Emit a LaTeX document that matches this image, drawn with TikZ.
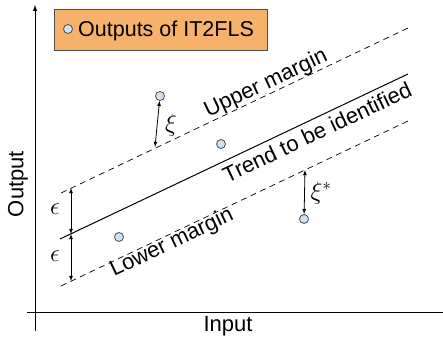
\documentclass[tikz,border=0pt]{standalone}
\usepackage{amsmath}
\usepackage{amssymb}
\usepackage{fontspec}
\setmainfont{Liberation Sans}
\usetikzlibrary{arrows,calc}

\definecolor{legendorange}{HTML}{F6B26B}
\definecolor{dotblue}{HTML}{CFE2F3}
\definecolor{darkgrey}{HTML}{4D4D4D}

\begin{document}
\begin{tikzpicture}[x=1pt, y=-1pt, >=latex,
    every node/.style={font=\fontsize{22}{26}\selectfont},
    outdot/.style={circle, draw=darkgrey, fill=dotblue, line width=0.8pt, inner sep=0pt, minimum size=9pt},
    margin/.style={dash pattern=on 6pt off 4.5pt, line width=0.7pt},
    gap/.style={<->, line width=0.8pt}]
    \useasboundingbox (0,0) rectangle (443,343);

    % draw the axes
    \coordinate (o1) at (35,331);
    \coordinate (o2) at (35,5);
    \coordinate (i1) at (27,312);
    \coordinate (i2) at (443,312);
    \draw[->, line width=1pt] (o1) -- (o2);
    \draw[line width=1pt] (i1) -- (i2);
    \node (input) at (228,326) {Input};
    \node[rotate=90] (output) at (18,184) {Output};

    % the legend
    \node[draw=darkgrey, fill=legendorange, line width=0.8pt, minimum width=213pt, minimum height=41pt] (legend) at (160.5,29.5) {};
    \node[outdot] (ldot) at (68,29) {};
    \node[anchor=base west, inner sep=0pt, font=\fontsize{21.5}{25}\selectfont] (ltext) at (78,36) {Outputs of IT2FLS};

    % the trend and the two margins
    \coordinate (u1) at (61,193);
    \coordinate (u2) at (408,28);
    \coordinate (t1) at (60,239);
    \coordinate (t2) at (408,74);
    \coordinate (l1) at (61,286);
    \coordinate (l2) at (408,121);
    \draw[margin] (u1) -- (u2);
    \draw[line width=1pt] (t1) -- (t2);
    \draw[margin] (l1) -- (l2);

    % the texts along the lines
    \node[rotate=25.4] (utext) at (266,84) {Upper margin};
    \node[rotate=25.4] (ttext) at (317,132) {Trend to be identified};
    \node[rotate=25.4] (ltext2) at (172,243) {Lower margin};

    % the outputs
    \node[outdot] (p1) at (160,96) {};
    \node[outdot] (p2) at (221,144) {};
    \node[outdot] (p3) at (119,237) {};
    \node[outdot] (p4) at (304,219) {};

    % epsilon tube
    \coordinate (eu) at (71,188);
    \coordinate (et) at (71,234);
    \coordinate (el) at (71,281);
    \draw[gap] (eu) -- (et);
    \draw[gap] (et) -- (el);
    \node[font=\fontsize{26}{30}\selectfont] (eps1) at (55,209) {$\epsilon$};
    \node[font=\fontsize{26}{30}\selectfont] (eps2) at (55,256) {$\epsilon$};

    % slack variables
    \coordinate (xu) at (155,147);
    \coordinate (xl) at (305,170);
    \draw[gap] (p1) -- (xu);
    \draw[gap] (xl) -- (p4);
    \node[font=\fontsize{24}{28}\selectfont] (xi) at (171,125) {$\xi$};
    \node[font=\fontsize{24}{28}\selectfont] (xis) at (321,193) {$\xi^*$};
\end{tikzpicture}
\end{document}
